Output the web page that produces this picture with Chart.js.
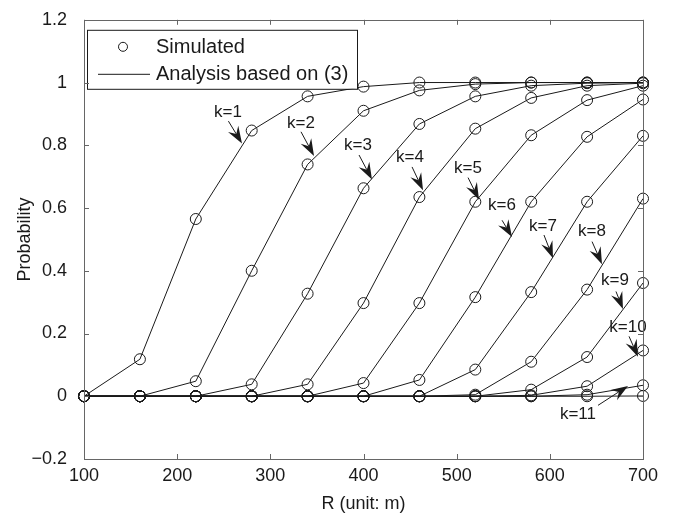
<!DOCTYPE html>
<html>
<head>
<meta charset="utf-8">
<script src="https://cdn.jsdelivr.net/npm/chart.js@4/dist/chart.umd.min.js"></script>
<style>
  html, body { margin: 0; padding: 0; background: #fff; }
  #wrap { width: 678px; height: 518px; }
</style>
</head>
<body>
<div id="wrap"><canvas id="probChart" width="678" height="518"></canvas></div>
<script>
// R values (m)
const rValues = [100, 160, 220, 280, 340, 400, 460, 520, 580, 640, 700];

// probability for each k
const k1  = [0, 0.118, 0.565, 0.847, 0.956, 0.987, 1, 1, 1, 1, 1];
const k2  = [0, 0, 0.048, 0.40, 0.739, 0.91, 0.975, 0.995, 1, 1, 1];
const k3  = [0, 0, 0, 0.038, 0.327, 0.663, 0.868, 0.956, 0.99, 0.998, 1];
const k4  = [0, 0, 0, 0, 0.038, 0.297, 0.635, 0.853, 0.951, 0.99, 0.998];
const k5  = [0, 0, 0, 0, 0, 0.042, 0.297, 0.62, 0.832, 0.944, 0.99];
const k6  = [0, 0, 0, 0, 0, 0, 0.052, 0.316, 0.62, 0.827, 0.946];
const k7  = [0, 0, 0, 0, 0, 0, 0, 0.085, 0.332, 0.62, 0.83];
const k8  = [0, 0, 0, 0, 0, 0, 0, 0.005, 0.11, 0.34, 0.63];
const k9  = [0, 0, 0, 0, 0, 0, 0, 0, 0.021, 0.125, 0.361];
const k10 = [0, 0, 0, 0, 0, 0, 0, 0, 0.003, 0.032, 0.146];
const k11 = [0, 0, 0, 0, 0, 0, 0, 0, 0, 0.005, 0.035];
const k12 = [0, 0, 0, 0, 0, 0, 0, 0, 0, 0, 0.001];

const allSeries = [k1, k2, k3, k4, k5, k6, k7, k8, k9, k10, k11, k12];
const seriesNames = ['k=1', 'k=2', 'k=3', 'k=4', 'k=5', 'k=6', 'k=7', 'k=8', 'k=9', 'k=10', 'k=11', 'k=12'];

// annotation arrows, in data units: [label, textX, textY, tailX, tailY, tipX, tipY]
const arrowNotes = [
  ['k=1', 254.6, 0.906, 255.0, 0.877, 269.6, 0.806],
  ['k=2', 332.9, 0.871, 332.9, 0.843, 346.9, 0.766],
  ['k=3', 394.1, 0.800, 395.2, 0.769, 409.1, 0.691],
  ['k=4', 449.9, 0.762, 452.1, 0.731, 463.9, 0.657],
  ['k=5', 512.2, 0.728, 512.2, 0.697, 524.0, 0.626],
  ['k=6', 548.7, 0.610, 548.7, 0.561, 559.4, 0.508],
  ['k=7', 592.7, 0.542, 593.7, 0.514, 603.4, 0.440],
  ['k=8', 645.3, 0.527, 645.3, 0.493, 656.0, 0.421],
  ['k=9', 669.9, 0.368, 671.0, 0.334, 678.5, 0.278],
  ['k=10', 683.9, 0.219, 685.0, 0.191, 694.6, 0.126],
  ['k=11', 630.2, -0.057, 651.7, -0.029, 683.9, 0.033]
];

const FONT = '"Liberation Sans", Arial, Helvetica, sans-serif';
const INK = '#1a1a1a';
const AXIS = '#666666';

// box + inward ticks on all four sides, like the original plot
const frameTicks = {
  id: 'frameTicks',
  afterDraw(chart) {
    const ctx = chart.ctx;
    const a = chart.chartArea;
    const xs = chart.scales.x, ys = chart.scales.y;
    const len = 5;
    ctx.save();
    ctx.strokeStyle = AXIS;
    ctx.lineWidth = 1;
    ctx.strokeRect(Math.round(a.left) + 0.5, Math.round(a.top) + 0.5,
      Math.round(a.right - a.left), Math.round(a.bottom - a.top));
    ctx.beginPath();
    xs.ticks.forEach(t => {
      const px = Math.round(xs.getPixelForValue(t.value)) + 0.5;
      ctx.moveTo(px, a.bottom); ctx.lineTo(px, a.bottom - len);
      ctx.moveTo(px, a.top); ctx.lineTo(px, a.top + len);
    });
    ys.ticks.forEach(t => {
      const py = Math.round(ys.getPixelForValue(t.value)) + 0.5;
      ctx.moveTo(a.left, py); ctx.lineTo(a.left + len, py);
      ctx.moveTo(a.right, py); ctx.lineTo(a.right - len, py);
    });
    ctx.stroke();
    ctx.restore();
  }
};

function drawArrow(ctx, x0, y0, x1, y1) {
  const ang = Math.atan2(y1 - y0, x1 - x0);
  const headLen = 17, halfW = 6, notch = 6;
  const bx = x1 - headLen * Math.cos(ang), by = y1 - headLen * Math.sin(ang);
  const nx = x1 - (headLen - notch) * Math.cos(ang), ny = y1 - (headLen - notch) * Math.sin(ang);
  const px = -Math.sin(ang), py = Math.cos(ang);
  ctx.beginPath();
  ctx.moveTo(x0, y0);
  ctx.lineTo(nx, ny);
  ctx.stroke();
  ctx.beginPath();
  ctx.moveTo(x1, y1);
  ctx.lineTo(bx + px * halfW, by + py * halfW);
  ctx.lineTo(nx, ny);
  ctx.lineTo(bx - px * halfW, by - py * halfW);
  ctx.closePath();
  ctx.fill();
}

const notesAndLegend = {
  id: 'notesAndLegend',
  afterDatasetsDraw(chart) {
    const ctx = chart.ctx;
    const xs = chart.scales.x, ys = chart.scales.y;
    ctx.save();
    ctx.strokeStyle = INK;
    ctx.fillStyle = INK;
    ctx.lineWidth = 1;
    ctx.font = '17px ' + FONT;
    ctx.textAlign = 'center';
    ctx.textBaseline = 'middle';
    arrowNotes.forEach(n => {
      ctx.fillText(n[0], xs.getPixelForValue(n[1]), ys.getPixelForValue(n[2]));
      drawArrow(ctx,
        xs.getPixelForValue(n[3]), ys.getPixelForValue(n[4]),
        xs.getPixelForValue(n[5]), ys.getPixelForValue(n[6]));
    });

    // legend box
    const a = chart.chartArea;
    const lx = a.left + 3, ly = a.top + 10;
    ctx.fillStyle = '#fff';
    ctx.fillRect(lx, ly, 270, 59);
    ctx.strokeStyle = INK;
    ctx.strokeRect(lx + 0.5, ly + 0.5, 270, 59);
    ctx.beginPath();
    ctx.arc(lx + 36, ly + 17, 4.5, 0, Math.PI * 2);
    ctx.stroke();
    ctx.beginPath();
    ctx.moveTo(lx + 11, ly + 44.5);
    ctx.lineTo(lx + 63, ly + 44.5);
    ctx.stroke();
    ctx.fillStyle = INK;
    ctx.font = '20px ' + FONT;
    ctx.textAlign = 'left';
    ctx.fillText('Simulated', lx + 69, ly + 18);
    ctx.fillText('Analysis based on (3)', lx + 69, ly + 45);
    ctx.restore();
  }
};

const datasets = allSeries.map((s, i) => ({
  label: seriesNames[i],
  data: rValues.map((r, j) => ({ x: r, y: s[j] })),
  borderColor: INK,
  borderWidth: 1,
  pointRadius: 5.5,
  pointHoverRadius: 5.5,
  pointBorderWidth: 1,
  pointBorderColor: INK,
  pointBackgroundColor: 'rgba(0,0,0,0)',
  tension: 0,
  clip: false
}));

new Chart(document.getElementById('probChart'), {
  type: 'line',
  data: { datasets: datasets },
  plugins: [frameTicks, notesAndLegend],
  options: {
    responsive: false,
    animation: false,
    events: [],
    layout: { padding: { top: 8, right: 35, left: 0, bottom: 0 } },
    plugins: {
      legend: { display: false },
      tooltip: { enabled: false }
    },
    scales: {
      x: {
        type: 'linear',
        min: 100,
        max: 700,
        afterFit: (s) => { s.height = 59; },
        grid: { display: false },
        border: { display: false },
        ticks: {
          stepSize: 100,
          padding: -2,
          color: INK,
          font: { family: FONT, size: 18 }
        },
        title: {
          display: true,
          text: 'R (unit: m)',
          color: INK,
          font: { family: FONT, size: 18 },
          padding: { top: 0, bottom: 3 }
        }
      },
      y: {
        type: 'linear',
        min: -0.2,
        max: 1.2,
        afterFit: (s) => { s.width = 84; },
        grid: { display: false },
        border: { display: false },
        ticks: {
          stepSize: 0.2,
          padding: 9,
          color: INK,
          font: { family: FONT, size: 18 },
          callback: (v) => {
            if (Math.abs(v) < 1e-9) return '0';
            const t = String(+Math.abs(v).toFixed(1));
            return v < 0 ? '\u2212' + t : t;
          }
        },
        title: {
          display: true,
          text: 'Probability',
          color: INK,
          font: { family: FONT, size: 18 },
          padding: { top: 14, bottom: 0 }
        }
      }
    }
  }
});
</script>
</body>
</html>
